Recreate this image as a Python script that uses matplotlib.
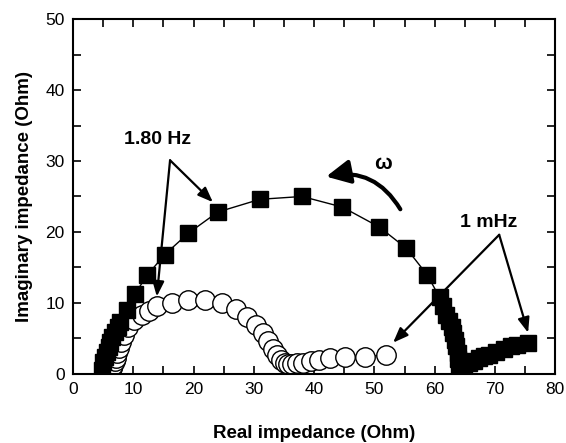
import matplotlib
matplotlib.use("Agg")
from matplotlib import pyplot as plt
from matplotlib.patches import FancyArrowPatch
from matplotlib.ticker import MultipleLocator

plt.rcParams['font.family'] = ['Liberation Sans', 'DejaVu Sans']

# filled squares
sq_re = [4.8, 5.0, 5.3, 5.6, 5.9, 6.1, 6.5, 7.0, 7.4, 7.8, 8.9, 10.3, 12.3, 15.2, 19.1,
         24.0, 31.0, 38.0, 44.7, 50.8, 55.3, 58.8, 60.8, 61.4, 61.9, 62.4, 62.8, 63.1,
         63.4, 63.6, 63.8, 63.9, 64.1, 64.3, 64.8, 65.7, 66.5, 67.4, 68.2, 69.0, 70.2,
         71.5, 72.6, 73.7, 75.4]
sq_im = [0.6, 1.7, 2.4, 3.1, 3.8, 4.5, 5.2, 5.9, 6.6, 7.3, 9.0, 11.3, 13.9, 16.8, 19.8,
         22.8, 24.6, 25.0, 23.5, 20.7, 17.7, 13.9, 10.8, 9.5, 8.3, 7.4, 6.6, 5.7,
         4.8, 3.9, 3.0, 2.1, 1.3, 0.6, 1.0, 1.5, 1.8, 2.2, 2.5, 2.7, 3.1,
         3.5, 3.9, 4.1, 4.3]

# open circles
ci_re = [6.3, 6.5, 6.7, 6.9, 7.1, 7.3, 7.6, 8.0, 8.5, 9.2, 10.2, 11.4, 12.6, 13.9, 16.4,
         19.1, 21.9, 24.7, 27.1, 28.8, 30.4, 31.5, 32.4, 33.2, 33.9, 34.5, 35.1, 35.7,
         36.4, 37.2, 38.2, 39.4, 40.8, 42.6, 45.2, 48.4, 52.0]
ci_im = [0.3, 0.8, 1.3, 1.8, 2.3, 2.9, 3.6, 4.5, 5.5, 6.6, 7.6, 8.3, 8.9, 9.5, 10.0,
         10.4, 10.4, 10.0, 9.2, 8.0, 6.9, 5.8, 4.6, 3.5, 2.6, 2.0, 1.6, 1.4,
         1.4, 1.5, 1.6, 1.8, 2.0, 2.2, 2.4, 2.4, 2.7]

fig = plt.figure(figsize=(5.66, 4.43), dpi=100)
ax = fig.add_axes([0.129, 0.156, 0.852, 0.801])

ax.plot(ci_re, ci_im, '-', color='black', lw=1, marker='o', ms=14,
        mfc='white', mec='black', mew=1)
ax.plot(sq_re, sq_im, '-', color='black', lw=1, marker='s', ms=12,
        mfc='black', mec='black')

ax.set_xlim(0, 80)
ax.set_ylim(0, 50)
ax.xaxis.set_major_locator(MultipleLocator(10))
ax.xaxis.set_minor_locator(MultipleLocator(5))
ax.yaxis.set_major_locator(MultipleLocator(10))
ax.yaxis.set_minor_locator(MultipleLocator(5))
ax.tick_params(which='both', direction='in', top=True, right=True, length=6, width=1.2,
               labelsize=12.5, pad=6)
for s in ax.spines.values():
    s.set_linewidth(1.5)

ax.set_xlabel('Real impedance (Ohm)', fontsize=13.5, fontweight='bold', labelpad=20)
ax.set_ylabel('Imaginary impedance (Ohm)', fontsize=13.5, fontweight='bold', labelpad=9)

arw = dict(arrowstyle='-|>,head_length=0.9,head_width=0.35', color='black', lw=1.6,
           shrinkA=0, shrinkB=0)
ax.text(14.1, 33.0, '1.80 Hz', fontsize=14, fontweight='bold', ha='center', va='center')
ax.annotate('', xy=(23.2, 24.2), xytext=(16.1, 30.1), arrowprops=arw)
ax.annotate('', xy=(13.9, 10.9), xytext=(16.1, 30.1), arrowprops=arw)

ax.text(69.0, 21.4, '1 mHz', fontsize=14, fontweight='bold', ha='center', va='center')
ax.annotate('', xy=(53.1, 4.4), xytext=(70.7, 19.6), arrowprops=arw)
ax.annotate('', xy=(75.5, 5.8), xytext=(70.7, 19.6), arrowprops=arw)

ax.text(51.4, 29.6, '\u03c9', fontsize=15, fontweight='bold', ha='center', va='center')
curve = FancyArrowPatch((54.3, 23.2), (42.0, 27.8), connectionstyle='arc3,rad=0.35',
                        arrowstyle='-|>,head_length=1.2,head_width=0.6', color='black',
                        lw=3, mutation_scale=12, shrinkA=0, shrinkB=0)
ax.add_patch(curve)

fig.savefig('out.png', dpi=100)
